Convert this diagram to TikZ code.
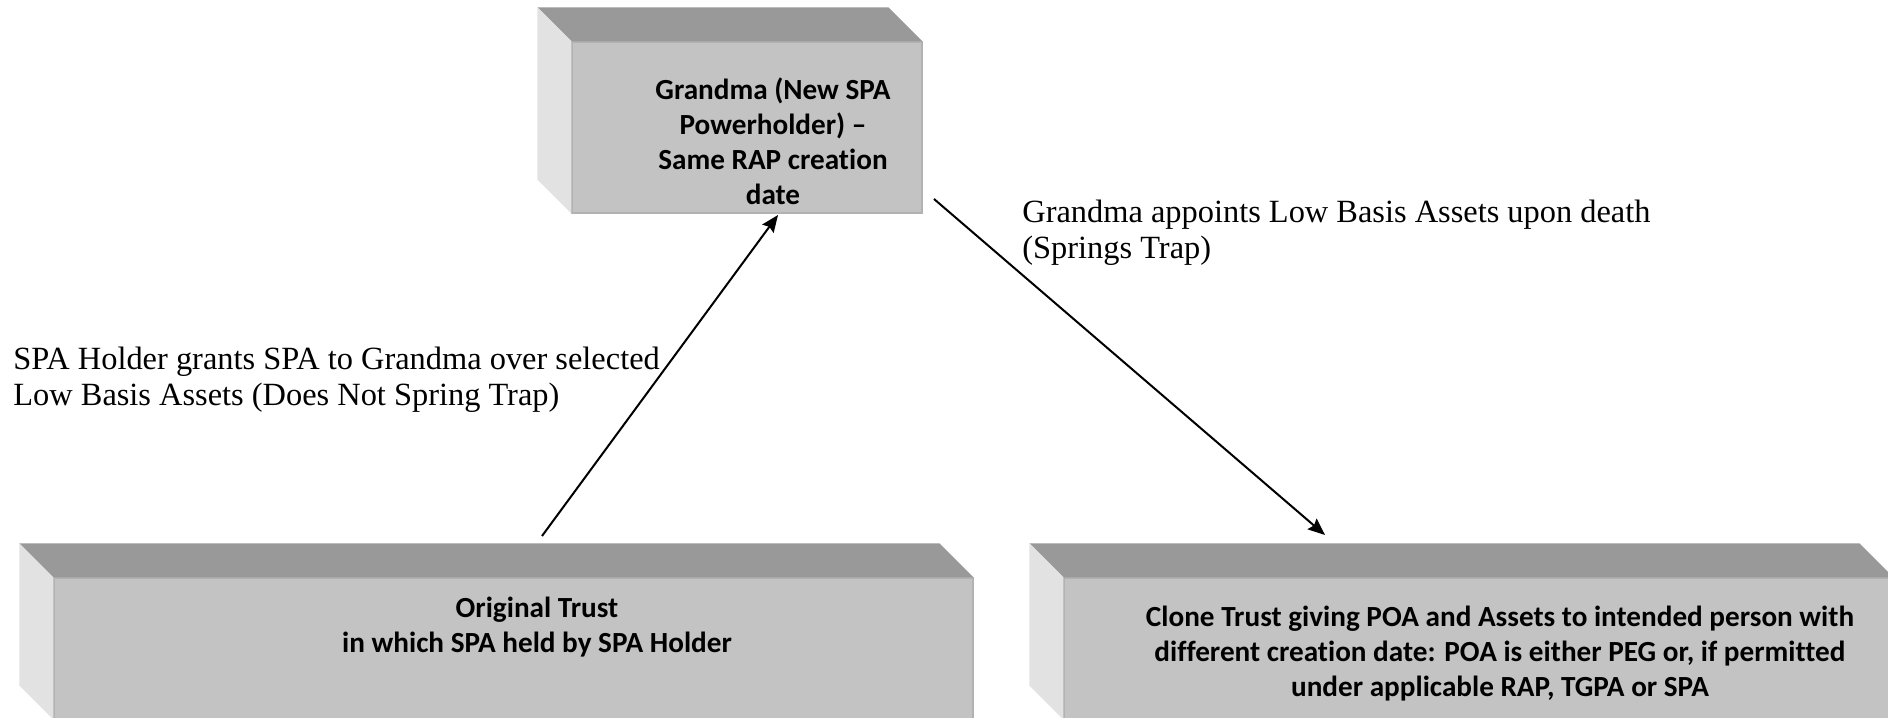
\documentclass[tikz,border=0pt]{standalone}
\usepackage{fontspec}
\setmainfont{Liberation Serif}
\newfontfamily\boxfont[Ligatures=NoCommon]{Carlito}
\usetikzlibrary{calc,arrows.meta}
\definecolor{facetop}{HTML}{999999}
\definecolor{facefront}{HTML}{C3C3C3}
\definecolor{faceleft}{HTML}{E2E2E2}
\definecolor{faceedge}{HTML}{B2B2B2}
\tikzset{
  frontface/.style={fill=facefront, draw=faceedge, line width=0.6pt, inner sep=0pt},
  topface/.style={fill=facetop},
  leftface/.style={fill=faceleft},
  boxtext/.style={font=\boxfont\bfseries\fontsize{14.6}{17.5}\selectfont, align=center, inner sep=0pt},
  lbl/.style={font=\fontsize{16.2}{18}\selectfont, align=left, inner sep=0pt, anchor=west},
  arr/.style={line width=1pt, -{Stealth[length=8.5pt,width=7pt,inset=1.2pt]}}
}
\newcommand{\bevelfaces}[1]{%
  \fill[topface] ($(#1.north west)+(-34,-34)$) -- ($(#1.north east)+(-34,-34)$) -- (#1.north east) -- (#1.north west) -- cycle;
  \fill[leftface] ($(#1.north west)+(-34,-34)$) -- (#1.north west) -- (#1.south west) -- ($(#1.south west)+(-34,-34)$) -- cycle;
}
\begin{document}
\begin{tikzpicture}[x=0.5pt,y=-0.5pt]
\useasboundingbox (0,0) rectangle (1888,717);
\clip (0,0) rectangle (1888,717);
\fill[white] (0,0) rectangle (1888,717);

% boxes (front faces)
\node[frontface, minimum width=175pt, minimum height=85.5pt] (gm) at (747,127.5) {};
\node[frontface, minimum width=459.5pt, minimum height=70.5pt] (orig) at (513.5,648.5) {};
\node[frontface, minimum width=414.5pt, minimum height=70.5pt] (clone) at (1478.5,648.5) {};
\bevelfaces{gm}
\bevelfaces{orig}
\bevelfaces{clone}

% box texts
\node[boxtext] (gmt) at (773,141) {Grandma (New SPA\\Powerholder) –\\Same RAP creation\\date};
\node[boxtext] (origt) at (537,627) {Original Trust\\in which SPA held by SPA Holder};
\node[boxtext] (clonet) at (1500,654) {Clone Trust giving POA and Assets to intended person with\\different creation date: POA is either PEG or, if permitted\\under applicable RAP, TGPA or SPA};

% labels
\node[lbl] (lab1) at (13,380) {SPA Holder grants SPA to Grandma over selected\\Low Basis Assets (Does Not Spring Trap)};
\node[lbl] (lab2) at (1022,233) {Grandma appoints Low Basis Assets upon death\\(Springs Trap)};

% connectors
\coordinate (a1s) at (542,536);
\coordinate (a1e) at (778,215);
\coordinate (a2s) at (934,199);
\coordinate (a2e) at (1325,535);
\draw[arr] (a1s) -- (a1e);
\draw[arr] (a2s) -- (a2e);
\end{tikzpicture}
\end{document}
